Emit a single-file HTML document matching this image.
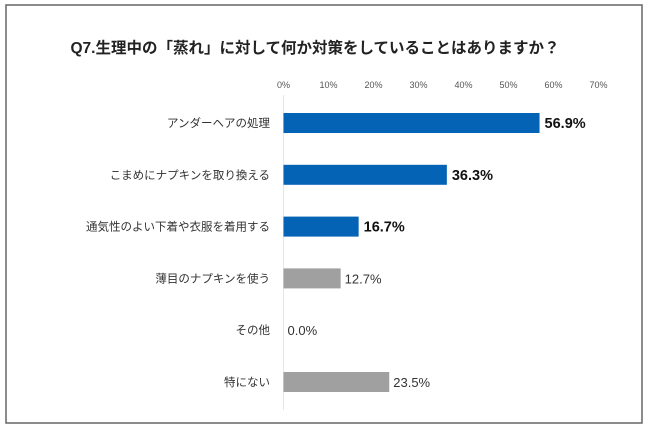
<!DOCTYPE html>
<html><head><meta charset="utf-8"><style>
body{margin:0;background:#fff;font-family:"Liberation Sans","Noto Sans CJK JP",sans-serif;}
</style></head><body>
<svg width="650" height="426" xmlns="http://www.w3.org/2000/svg">
<rect x="6" y="5" width="636" height="418" fill="#fff" stroke="#666" stroke-width="1.5"/>
<text x="315" y="53" text-anchor="middle" font-size="15.5" font-weight="bold" fill="#222" font-family="Liberation Sans, Noto Sans CJK JP, sans-serif">Q7.生理中の「蒸れ」に対して何か対策をしていることはありますか？</text>
<g id="ticks"></g>
<line x1="283.5" y1="95" x2="283.5" y2="410" stroke="#e6e6e6"/>
<g id="bars"></g>
</svg>
<script>
const categories=["アンダーヘアの処理","こまめにナプキンを取り換える","通気性のよい下着や衣服を着用する","薄目のナプキンを使う","その他","特にない"];
const values=[56.9,36.3,16.7,12.7,0.0,23.5];
const highlight=[true,true,true,false,false,false];
const ticks=[0,10,20,30,40,50,60,70];
const ns="http://www.w3.org/2000/svg";
const x0=283.5,pxPer=4.5,rowY0=123,rowStep=51.8,barH=20;
const xs=v=>x0+v*pxPer, ys=i=>rowY0+i*rowStep;
const tg=document.getElementById('ticks'),bg=document.getElementById('bars');
ticks.forEach(t=>{const e=document.createElementNS(ns,'text');
e.setAttribute('x',xs(t));e.setAttribute('y',88);e.setAttribute('text-anchor','middle');e.setAttribute('font-size','9');e.setAttribute('fill','#555');
e.textContent=t+'%';


tg.appendChild(e);});
categories.forEach((c,i)=>{
const l=document.createElementNS(ns,'text');
l.setAttribute('x',270);l.setAttribute('y',ys(i)+4);l.setAttribute('text-anchor','end');l.setAttribute('font-size','11.5');l.setAttribute('fill','#333');
l.textContent=c;


bg.appendChild(l);
const r=document.createElementNS(ns,'rect');
r.setAttribute('x',x0);r.setAttribute('y',ys(i)-barH/2);r.setAttribute('width',Math.max(0,values[i]*pxPer));r.setAttribute('height',barH);
r.setAttribute('fill',highlight[i]?'#0563b5':'#a0a0a0');


bg.appendChild(r);
const v=document.createElementNS(ns,'text');
v.setAttribute('x',xs(values[i])+(highlight[i]?5:4));v.setAttribute('y',ys(i)+5);
v.setAttribute('font-size',highlight[i]?'14.5':'13');if(highlight[i])v.setAttribute('font-weight','bold');
v.setAttribute('fill',highlight[i]?'#111':'#333');
v.textContent=values[i].toFixed(1)+'%';


bg.appendChild(v);});
</script>
</body></html>
